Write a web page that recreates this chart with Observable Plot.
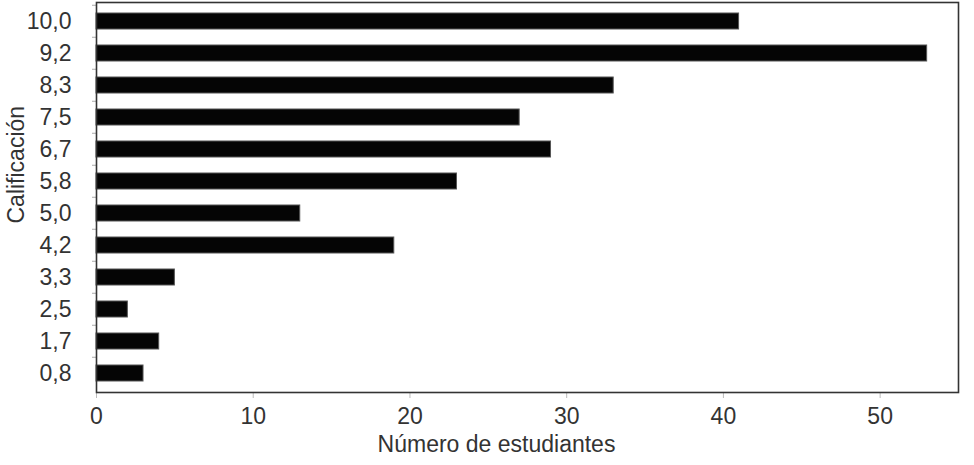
<!DOCTYPE html>
<html>
<head>
<meta charset="utf-8">
<script src="https://cdn.jsdelivr.net/npm/d3@7"></script>
<script src="https://cdn.jsdelivr.net/npm/@observablehq/plot@0.6"></script>
<style>
  html, body { margin: 0; padding: 0; background: #fff; }
  #chart svg { display: block; }
</style>
</head>
<body>
<div id="chart"></div>
<script>
const grades = ["10,0","9,2","8,3","7,5","6,7","5,8","5,0","4,2","3,3","2,5","1,7","0,8"];
const counts = [41, 53, 33, 27, 29, 23, 13, 19, 5, 2, 4, 3];
const xTicks = [0, 10, 20, 30, 40, 50];
const xLabel = "Número de estudiantes";
const yLabel = "Calificación";

const data = grades.map((g, i) => ({grade: g, count: counts[i]}));
const font = "'Liberation Sans', Arial, sans-serif";

const chart = Plot.plot({
  width: 974,
  height: 465,
  marginLeft: 96,
  marginRight: 16,
  marginTop: 2,
  marginBottom: 73,
  style: {fontFamily: font, fontSize: "23px", color: "#333", background: "#fff"},
  x: {domain: [0, 55]},
  y: {domain: grades, paddingInner: 0.5, paddingOuter: 0.25},
  marks: [
    Plot.barX(data, {x: "count", y: "grade", fill: "#050505", stroke: "#555", strokeWidth: 1}),
    Plot.axisX({ticks: xTicks, tickSize: 6, tickPadding: 9, stroke: "#bbb", fill: "#333", label: null, fontSize: 23}),
    Plot.axisY({tickSize: 0, tickPadding: 25, label: null, fill: "#333", fontSize: 23}),
    Plot.axisY({tickSize: 4, tickFormat: null, label: null, stroke: "#aaa", dy: -16.25}),
    Plot.frame({stroke: "#333", strokeWidth: 1.6}),
    Plot.text([xLabel], {text: d => d, frameAnchor: "bottom", dy: 59, dx: -31, fontSize: 23, fill: "#333"}),
    Plot.text([yLabel], {text: d => d, frameAnchor: "left", rotate: -90, dx: -80, dy: 26, fontSize: 23, fill: "#333"})
  ]
});
document.getElementById("chart").appendChild(chart);
</script>
</body>
</html>
